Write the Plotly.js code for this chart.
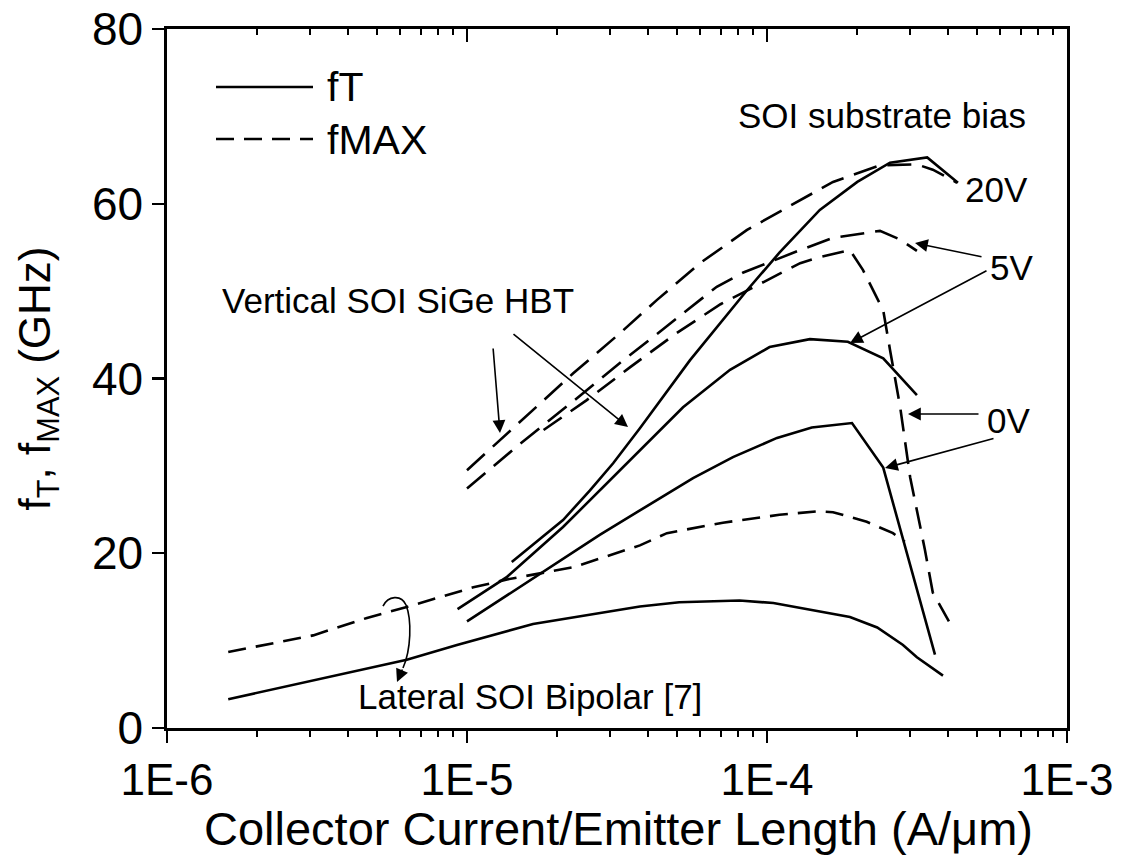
<!DOCTYPE html>
<html>
<head>
<meta charset="utf-8">
<script src="https://cdn.plot.ly/plotly-3.0.1.min.js"></script>
<style>html,body{margin:0;padding:0;background:#fff;}#chart{width:1125px;height:858px;}</style>
</head>
<body>
<div id="chart"></div>
<script>
// ---- Data ----
const xTickVals = [1e-6, 1e-5, 1e-4, 1e-3];
const xTickText = ['1E-6', '1E-5', '1E-4', '1E-3'];
const yTickVals = [0, 20, 40, 60, 80];

// Lateral SOI bipolar
const latFT_x = [1.6e-6, 4.86e-6, 6.3e-6, 9.26e-6, 1.66e-5, 3.77e-5, 5.1e-5, 8.1e-5, 1.05e-4, 1.89e-4, 2.33e-4, 2.84e-4, 3.16e-4, 3.86e-4];
const latFT_y = [3.3, 6.9, 7.8, 9.5, 11.9, 13.9, 14.4, 14.6, 14.3, 12.7, 11.5, 9.5, 8.1, 6.0];
const latFMAX_x = [1.6e-6, 3.07e-6, 4.64e-6, 6.3e-6, 1.05e-5, 1.36e-5, 2.26e-5, 3.77e-5, 4.64e-5, 7.13e-5, 1.1e-4, 1.47e-4, 1.66e-4, 2.15e-4, 2.63e-4, 2.88e-4];
const latFMAX_y = [8.7, 10.6, 12.6, 13.85, 16.1, 17.0, 18.4, 20.9, 22.3, 23.5, 24.4, 24.8, 24.7, 23.6, 22.3, 21.3];

// Vertical SOI SiGe HBT, fT
const ft20_x = [1.41e-5, 2.09e-5, 2.57e-5, 3.07e-5, 3.77e-5, 5.54e-5, 8.58e-5, 1.1e-4, 1.5e-4, 2.0e-4, 2.57e-4, 3.42e-4, 4.33e-4];
const ft20_y = [19.0, 23.8, 27.2, 30.3, 34.3, 42.1, 50.1, 54.4, 59.3, 62.5, 64.7, 65.3, 62.4];
const ft5_x = [9.3e-6, 1.36e-5, 2.09e-5, 2.57e-5, 3.77e-5, 5.25e-5, 7.53e-5, 1.02e-4, 1.39e-4, 1.86e-4, 2.44e-4, 3.16e-4];
const ft5_y = [13.6, 17.3, 23.0, 26.1, 31.8, 36.7, 41.0, 43.6, 44.5, 44.2, 42.3, 38.1];
const ft0_x = [1.0e-5, 2.0e-5, 2.77e-5, 3.77e-5, 5.67e-5, 7.7e-5, 1.08e-4, 1.41e-4, 1.92e-4, 2.44e-4, 3.63e-4];
const ft0_y = [12.2, 18.9, 22.1, 24.9, 28.6, 31.0, 33.2, 34.4, 34.9, 29.8, 8.4];

// Vertical SOI SiGe HBT, fMAX
const fm20_x = [1.0e-5, 1.5e-5, 2.26e-5, 3.24e-5, 4.3e-5, 5.98e-5, 8.58e-5, 1.17e-4, 1.66e-4, 2.38e-4, 3.16e-4, 3.57e-4, 4.3e-4];
const fm20_y = [29.5, 35.0, 40.6, 45.2, 49.0, 53.2, 57.0, 59.6, 62.5, 64.4, 64.5, 63.9, 62.4];
const fm5_x = [1.0e-5, 1.5e-5, 2.26e-5, 3.24e-5, 4.3e-5, 6.8e-5, 8.3e-5, 1.0e-4, 1.29e-4, 1.66e-4, 2.38e-4, 2.78e-4, 3.16e-4];
const fm5_y = [27.4, 32.5, 37.4, 41.8, 45.1, 50.5, 52.1, 53.2, 54.7, 56.1, 56.9, 55.9, 54.6];
const fm0_x = [1.8e-5, 2.5e-5, 3.5e-5, 5.0e-5, 7.0e-5, 1.05e-4, 1.29e-4, 1.5e-4, 1.89e-4, 2.09e-4, 2.44e-4, 2.57e-4, 2.78e-4, 3.0e-4, 3.36e-4, 3.57e-4, 4.04e-4];
const fm0_y = [34.1, 37.5, 41.3, 45.2, 48.5, 51.6, 53.2, 53.9, 54.7, 52.4, 47.8, 43.3, 36.7, 28.7, 20.4, 15.5, 12.2];

const minorVals = [];
for (let d = -6; d < -3; d++) { for (let m = 2; m <= 9; m++) minorVals.push(m * Math.pow(10, d)); }

// ---- Traces ----
const FONT = 'Liberation Sans, Arial, Helvetica, sans-serif';
const LW = 2.6;
function solid(x, y) { return {x: x, y: y, type: 'scatter', mode: 'lines', line: {color: '#000', width: LW}, showlegend: false, hoverinfo: 'skip'}; }
function dashed(x, y, pat) { return {x: x, y: y, type: 'scatter', mode: 'lines', line: {color: '#000', width: LW, dash: pat}, showlegend: false, hoverinfo: 'skip'}; }

const traces = [
  solid(latFT_x, latFT_y),
  dashed(latFMAX_x, latFMAX_y, '18px,10px'),
  solid(ft20_x, ft20_y),
  solid(ft5_x, ft5_y),
  solid(ft0_x, ft0_y),
  dashed(fm20_x, fm20_y, '24px,11px'),
  dashed(fm5_x, fm5_y, '24px,11px'),
  dashed(fm0_x, fm0_y, '22px,11px'),
  {x: [1e-6], y: [null], xaxis: 'x2', type: 'scatter', mode: 'lines', showlegend: false, hoverinfo: 'skip'}
];

// paper helpers (plot area: x 167..1067 px, y 29..728 px)
const PX = p => (p - 167) / 900;
const PY = p => (728 - p) / 699;

function txt(t, px, py, size, anchor) {
  return {text: t, x: PX(px), y: PY(py), xref: 'paper', yref: 'paper', showarrow: false,
          xanchor: anchor || 'center', yanchor: 'middle', font: {family: FONT, size: size, color: '#000'}};
}
function arr(tipx, tipy, tailx, taily) {
  return {text: '', x: PX(tipx), y: PY(tipy), xref: 'paper', yref: 'paper', showarrow: true,
          ax: tailx - tipx, ay: taily - tipy, arrowhead: 2, arrowsize: 1.6, arrowwidth: 1.6, arrowcolor: '#000'};
}

const annotations = [
  txt('fT', 325, 87, 41, 'left'),
  txt('fMAX', 325, 140, 41, 'left'),
  txt('SOI substrate bias', 882, 116, 35),
  txt('20V', 996, 190, 35),
  txt('5V', 1011, 267, 35),
  txt('0V', 1008, 420, 35),
  txt('Vertical SOI SiGe HBT', 398, 300, 35),
  txt('Lateral SOI Bipolar [7]', 530, 696, 35),
  txt('Collector Current/Emitter Length (A/\u03bcm)', 618, 829, 47),
  arr(500, 433, 493, 347),
  arr(628, 427, 512, 333),
  arr(915, 243, 983, 257),
  arr(850, 343, 988, 270),
  arr(908, 414, 980, 414),
  arr(885, 468, 995, 438),
  arr(397, 682, 403, 668)
];

function pt(px, py) { return PX(px).toFixed(4) + ',' + PY(py).toFixed(4); }
const shapes = [
  {type: 'line', xref: 'paper', yref: 'paper', x0: PX(216), x1: PX(313), y0: PY(87), y1: PY(87), line: {color: '#000', width: LW}},
  {type: 'line', xref: 'paper', yref: 'paper', x0: PX(216), x1: PX(313), y0: PY(139), y1: PY(139), line: {color: '#000', width: LW, dash: '18px,10px'}},
  {type: 'path', xref: 'paper', yref: 'paper', line: {color: '#000', width: 1.6},
   path: 'M' + pt(383, 606) + ' C' + pt(388, 596) + ' ' + pt(401, 594) + ' ' + pt(406, 605) +
         ' C' + pt(412, 620) + ' ' + pt(411, 650) + ' ' + pt(403, 668)}
];

const layout = {
  width: 1125, height: 858,
  margin: {l: 167, r: 58, t: 29, b: 130},
  paper_bgcolor: '#fff', plot_bgcolor: '#fff',
  showlegend: false,
  xaxis: {
    type: 'log', range: [-6, -3], showgrid: false, zeroline: false,
    showline: true, linecolor: '#000', linewidth: 2.6, mirror: false,
    ticks: 'outside', ticklen: 12, tickwidth: 2.2, tickcolor: '#000',
    tickmode: 'array', tickvals: xTickVals, ticktext: xTickText,
    tickfont: {family: FONT, size: 44, color: '#000'},
    minor: {ticks: 'outside', ticklen: 6, tickwidth: 2, tickcolor: '#000', tickmode: 'array', tickvals: minorVals, showgrid: false}
  },
  xaxis2: {
    type: 'log', range: [-6, -3], overlaying: 'x', side: 'top', anchor: 'y',
    showgrid: false, zeroline: false, showline: true, linecolor: '#000', linewidth: 2.6,
    ticks: 'inside', ticklen: 13, tickwidth: 2.2, tickcolor: '#000',
    tickmode: 'array', tickvals: xTickVals, showticklabels: false,
    minor: {ticks: 'inside', ticklen: 6, tickwidth: 2, tickcolor: '#000', tickmode: 'array', tickvals: minorVals, showgrid: false}
  },
  yaxis: {
    range: [0, 80], showgrid: false, zeroline: false,
    showline: true, linecolor: '#000', linewidth: 2.6, mirror: true,
    ticks: 'outside', ticklen: 12, tickwidth: 2.2, tickcolor: '#000',
    tickmode: 'array', tickvals: yTickVals, tickfont: {family: FONT, size: 46, color: '#000'},
    title: {text: 'f<sub>T</sub>, f<sub>MAX</sub> (GHz)', font: {family: FONT, size: 44, color: '#000'}, standoff: 28}
  },
  annotations: annotations,
  shapes: shapes
};

Plotly.newPlot('chart', traces, layout, {staticPlot: true, displayModeBar: false});
</script>
</body>
</html>
